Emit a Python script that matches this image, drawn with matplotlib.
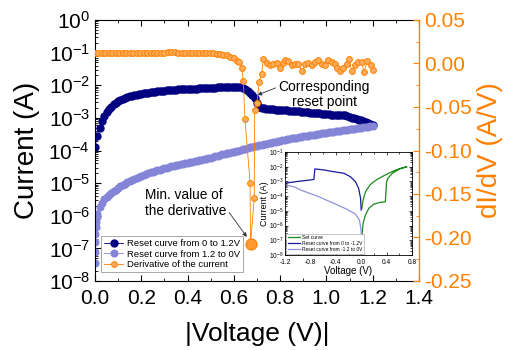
import numpy as np
import matplotlib
matplotlib.use('Agg')
import matplotlib.pyplot as plt
from matplotlib.ticker import MultipleLocator, LogLocator, NullFormatter

plt.rcParams['font.family'] = ['Liberation Sans', 'DejaVu Sans']
plt.rcParams['axes.unicode_minus'] = False
plt.rcParams['mathtext.default'] = 'regular'

NAVY = '#000080'
LIGHT = '#8585d8'
ORANGE = '#ff8000'
GREEN = '#1a8a1a'

# ---- reset curve 0 -> 1.2 V (log10 of current) ----
v_up = np.round(np.arange(0, 1.201, 0.01), 2)
log_up = [
    -3.88, -3.56, -3.30, -3.10, -2.95, -2.83, -2.74, -2.66, -2.59, -2.53,
    -2.48, -2.44, -2.41, -2.38, -2.36, -2.34, -2.32, -2.30, -2.29, -2.27,
    -2.26, -2.25, -2.24, -2.23, -2.22, -2.21, -2.20, -2.19, -2.18, -2.18,
    -2.17, -2.16, -2.16, -2.15, -2.15, -2.14, -2.13, -2.13, -2.12, -2.12,
    -2.11, -2.11, -2.10, -2.10, -2.10, -2.09, -2.09, -2.08, -2.08, -2.08,
    -2.07, -2.07, -2.07, -2.06, -2.06, -2.06, -2.06, -2.05, -2.05, -2.05,
    -2.05, -2.05, -2.04, -2.05, -2.07, -2.10, -2.17, -2.23, -2.30, -2.40,
    -2.55, -2.68, -2.70, -2.71, -2.72, -2.73, -2.74, -2.74, -2.75, -2.75,
    -2.76, -2.76, -2.77, -2.77, -2.78, -2.78, -2.79, -2.80, -2.80, -2.81,
    -2.82, -2.82, -2.83, -2.84, -2.84, -2.85, -2.86, -2.86, -2.87, -2.88,
    -2.89, -2.89, -2.90, -2.91, -2.91, -2.92, -2.92, -2.90, -2.91, -2.94,
    -2.97, -2.99, -3.01, -3.03, -3.05, -3.07, -3.09, -3.12, -3.16, -3.19,
    -3.22,
]

# ---- reset curve 1.2 -> 0 V ----
v_down = [0.0, 0.0, 0.001, 0.002, 0.003, 0.005, 0.007] + list(np.round(np.arange(0.01, 1.201, 0.01), 2))
log_down = [
    -7.45, -7.10, -6.80, -6.55, -6.35, -6.20, -6.05,
    -5.95, -5.74, -5.60, -5.50, -5.42, -5.36, -5.31, -5.25, -5.20, -5.15,
    -5.10, -5.06, -5.02, -4.98, -4.94, -4.90, -4.87, -4.84, -4.81, -4.78,
    -4.75, -4.72, -4.70, -4.67, -4.65, -4.63, -4.61, -4.59, -4.57, -4.55,
    -4.53, -4.51, -4.49, -4.47, -4.45, -4.44, -4.42, -4.40, -4.38, -4.37,
    -4.35, -4.34, -4.32, -4.31, -4.29, -4.28, -4.26, -4.25, -4.23, -4.22,
    -4.20, -4.18, -4.16, -4.14, -4.12, -4.11, -4.09, -4.07, -4.05, -4.04,
    -4.02, -4.00, -3.98, -3.96, -3.94, -3.92, -3.90, -3.88, -3.86, -3.85,
    -3.83, -3.82, -3.80, -3.79, -3.77, -3.76, -3.74, -3.73, -3.71, -3.70,
    -3.69, -3.67, -3.66, -3.65, -3.63, -3.62, -3.61, -3.60, -3.58, -3.57,
    -3.56, -3.55, -3.53, -3.52, -3.51, -3.50, -3.49, -3.47, -3.46, -3.45,
    -3.44, -3.43, -3.42, -3.41, -3.40, -3.39, -3.38, -3.37, -3.36, -3.35,
    -3.34, -3.33, -3.32, -3.31, -3.30, -3.29, -3.28, -3.27, -3.26, -3.25,
]

# ---- derivative of the current (A/V) ----
v_der = [
    0.000, 0.015, 0.030, 0.045, 0.060, 0.075, 0.090, 0.105, 0.120, 0.135,
    0.150, 0.165, 0.180, 0.195, 0.210, 0.225, 0.240, 0.255, 0.270, 0.285,
    0.300, 0.315, 0.330, 0.345, 0.360, 0.375, 0.390, 0.405, 0.420, 0.435,
    0.450, 0.465, 0.480, 0.495, 0.510, 0.525, 0.540, 0.555, 0.570, 0.585,
    0.600, 0.615, 0.623, 0.634, 0.641, 0.648, 0.670, 0.672, 0.688, 0.690,
    0.699, 0.710, 0.720, 0.727, 0.742, 0.756, 0.771, 0.785, 0.800, 0.814,
    0.821, 0.835, 0.850, 0.864, 0.879, 0.893, 0.908, 0.922, 0.936, 0.951,
    0.965, 0.980, 0.994, 1.008, 1.023, 1.037, 1.047, 1.059, 1.073, 1.088,
    1.098, 1.109, 1.124, 1.138, 1.153, 1.162, 1.177, 1.191, 1.203,
]
didv = [
    0.0117, 0.0119, 0.0118, 0.0120, 0.0119, 0.0120, 0.0121, 0.0120, 0.0121, 0.0120,
    0.0122, 0.0121, 0.0122, 0.0121, 0.0122, 0.0121, 0.0123, 0.0122, 0.0123, 0.0124,
    0.0125, 0.0128, 0.0130, 0.0127, 0.0125, 0.0124, 0.0123, 0.0122, 0.0121, 0.0122,
    0.0121, 0.0120, 0.0118, 0.0117, 0.0115, 0.0112, 0.0108, 0.0102, 0.0093, 0.0080,
    0.0060, 0.0030, 0.0022, -0.0055, -0.020, -0.064, -0.137, -0.208, -0.155, -0.053,
    -0.045, -0.021, -0.012, 0.005, 0.001, -0.0016, -0.001, 0.001, -0.0055, 0.0002,
    0.004, 0.003, -0.0016, 0.0, -0.001, -0.0085, -0.001, 0.001, -0.0016, 0.002,
    0.004, 0.0, -0.002, 0.004, 0.002, -0.001, -0.0055, -0.009, -0.0055, -0.001,
    0.005, -0.009, -0.0016, 0.002, 0.002, -0.010, 0.003, -0.0016, -0.007,
]

# ---- inset: full I-V cycle ----
set_v = [0.005, 0.015, 0.03, 0.067, 0.12, 0.2, 0.30, 0.38, 0.40, 0.42, 0.49, 0.59, 0.72,
         0.62, 0.51, 0.38, 0.25, 0.146, 0.067, 0.03, 0.01]
set_log = [-7.39, -6.53, -5.85, -5.29, -4.83, -4.54, -4.42, -4.38, -3.02, -2.79, -2.45, -2.18, -2.0,
           -2.11, -2.29, -2.56, -2.86, -3.2, -3.7, -4.27, -4.83]
neg_v = [0.0, -0.01, -0.04, -0.09, -0.17, -0.27, -0.43, -0.59, -0.69, -0.73, -0.745,
         -0.8, -0.9, -1.0, -1.1, -1.2]
neg_log = [-4.95, -4.15, -3.47, -3.02, -2.68, -2.45, -2.34, -2.22, -2.17, -2.15, -2.86,
           -2.9, -2.95, -3.0, -3.06, -3.13]
back_v = [-1.2, -1.06, -0.95, -0.69, -0.43, -0.22, -0.09, -0.027, -0.006, 0.0]
back_log = [-3.24, -3.36, -3.59, -4.0, -4.49, -4.9, -5.22, -5.63, -6.19, -6.53]

fig = plt.figure(figsize=(5.14, 3.5), dpi=100)
ax = fig.add_axes([95 / 514, 1 - 281 / 350, 324 / 514, 261 / 350])
ax2 = ax.twinx()

l1, = ax.plot(v_up, 10 ** np.array(log_up), '-o', color=NAVY, ms=5, lw=0.6,
              mec=NAVY, label='Reset curve from 0 to 1.2V')
l2, = ax.plot(v_down, 10 ** np.array(log_down), '-o', color=LIGHT, ms=4.8, lw=0.6,
              mec=LIGHT, label='Reset curve from 1.2 to 0V')
l3, = ax2.plot(v_der, didv, '-o', color=ORANGE, ms=4.2, lw=0.6, mfc='#ffac5c',
               mec=ORANGE, mew=0.7, label='Derivative of the current')
imin = int(np.argmin(didv))
ax2.plot(v_der[imin], didv[imin], 'o', ms=8, mfc='#ff9a33', mec=ORANGE, mew=0.8)

ax.set_yscale('log')
ax.set_xlim(0, 1.4)
ax.set_ylim(1e-8, 1)
ax2.set_ylim(-0.25, 0.05)

ax.xaxis.set_major_locator(MultipleLocator(0.2))
ax.xaxis.set_minor_locator(MultipleLocator(0.1))
ax.yaxis.set_major_locator(LogLocator(base=10, numticks=20))
ax.yaxis.set_minor_locator(LogLocator(base=10, subs=np.arange(2, 10), numticks=20))
ax.yaxis.set_minor_formatter(NullFormatter())
ax.tick_params(which='both', direction='in', top=True, right=False, labelsize=15)
ax.tick_params(which='major', length=4, width=0.8)
ax.tick_params(which='minor', length=2, width=0.6)
ax.tick_params(axis='x', pad=6)
ax.xaxis.set_major_formatter(matplotlib.ticker.FormatStrFormatter('%.1f'))

ax2.yaxis.set_major_locator(MultipleLocator(0.05))
ax2.yaxis.set_minor_locator(MultipleLocator(0.025))
ax2.yaxis.set_major_formatter(matplotlib.ticker.FormatStrFormatter('%.2f'))
ax2.tick_params(which='both', direction='in', colors=ORANGE, labelsize=15)
ax2.tick_params(which='major', length=4, width=0.8)
ax2.tick_params(which='minor', length=2, width=0.6)

ax.spines['right'].set_visible(False)
for s in ['left', 'top', 'bottom']:
    ax2.spines[s].set_visible(False)
ax2.spines['right'].set_color(ORANGE)
ax2.spines['right'].set_linewidth(1.0)

ax.set_xlabel('|Voltage (V)|', fontsize=19, labelpad=10)
ax.set_ylabel('Current (A)', fontsize=20, labelpad=6)
ax2.set_ylabel('dI/dV (A/V)', fontsize=20, color=ORANGE, labelpad=4)

leg = ax2.legend(handles=[l1, l2, l3], loc='lower left', bbox_to_anchor=(0.02, 0.035),
                 fontsize=6.8, frameon=True, fancybox=False, edgecolor='#999999',
                 framealpha=1, borderpad=0.3, labelspacing=0.15, handlelength=2.0,
                 handletextpad=0.4, borderaxespad=0)
leg.get_frame().set_linewidth(0.6)

ax.annotate('Corresponding\nreset point', xy=(0.702, 10 ** -2.30), xytext=(0.99, 10 ** -2.27),
            ha='center', va='center', fontsize=10, linespacing=1.1,
            arrowprops=dict(arrowstyle='-|>', color='#333333', lw=0.6, mutation_scale=6,
                            shrinkA=0, shrinkB=0,
                            relpos=(0.0, 0.75)))
ax.annotate('Min. value of\nthe derivative', xy=(0.656, 10 ** -6.65), xytext=(0.216, 10 ** -5.6),
            ha='left', va='center', fontsize=9.8, linespacing=1.15,
            arrowprops=dict(arrowstyle='-|>', color='#333333', lw=0.6, mutation_scale=6,
                            shrinkA=0, shrinkB=0, relpos=(1.0, 0.3)))

# inset
ins = fig.add_axes([285 / 514, 1 - 255 / 350, 127 / 514, 103 / 350])
ins.plot(set_v, 10 ** np.array(set_log), color=GREEN, lw=0.9, label='Set curve')
ins.plot(neg_v, 10 ** np.array(neg_log), color='#1a1a99', lw=0.9, label='Reset curve from 0 to -1.2V')
ins.plot(back_v, 10 ** np.array(back_log), color='#9090e0', lw=0.9, label='Reset curve from -1.2 to 0V')
ins.set_yscale('log')
ins.set_xlim(-1.2, 0.8)
ins.set_ylim(1e-8, 1e-1)
ins.xaxis.set_major_locator(MultipleLocator(0.4))
ins.xaxis.set_minor_locator(MultipleLocator(0.2))
ins.xaxis.set_major_formatter(matplotlib.ticker.FormatStrFormatter('%.1f'))
ins.yaxis.set_major_locator(LogLocator(base=10, numticks=20))
ins.yaxis.set_minor_locator(LogLocator(base=10, subs=np.arange(2, 10), numticks=20))
ins.yaxis.set_minor_formatter(NullFormatter())
ins.tick_params(which='both', direction='in', top=True, right=True, labelsize=4.8, pad=1.2, width=0.5)
ins.tick_params(axis='x', pad=2.6)
ins.tick_params(which='major', length=2.5)
ins.tick_params(which='minor', length=1.2)
for s in ins.spines.values():
    s.set_linewidth(0.6)
ins.set_xlabel('Voltage (V)', fontsize=7, labelpad=0)
ins.set_ylabel('Current (A)', fontsize=6.5, labelpad=0)
ileg = ins.legend(loc='lower left', fontsize=3.5, frameon=True, fancybox=False,
                  edgecolor='#999999', framealpha=1, borderpad=0.3, labelspacing=0.2,
                  handlelength=2.5, handletextpad=0.5, borderaxespad=0.3)
ileg.get_frame().set_linewidth(0.4)

fig.savefig('out.png', dpi=100)
